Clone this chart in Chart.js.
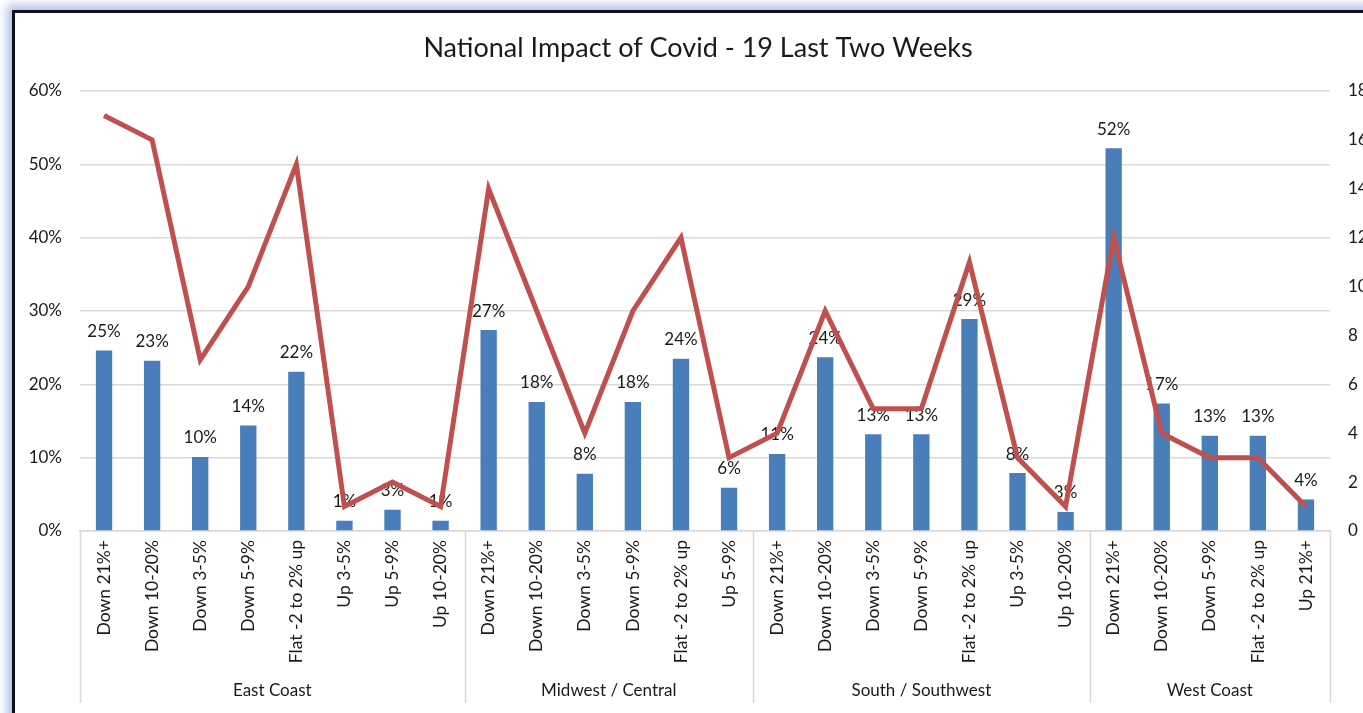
<!DOCTYPE html>
<html>
<head>
<meta charset="utf-8">
<title>National Impact of Covid - 19 Last Two Weeks</title>
<script src="https://cdn.jsdelivr.net/npm/chart.js@4.4.1/dist/chart.umd.min.js"></script>
<style>
  html, body { margin: 0; padding: 0; width: 1363px; height: 713px; overflow: hidden; background: #fff; }
  .frame {
    position: absolute; left: 12px; top: 10px; width: 1420px; height: 780px;
    border: 3px solid #101018; background: #fff;
    box-shadow: 0 0 9px 5px rgba(176, 188, 232, 0.95);
  }
  #wrap { position: absolute; left: 15px; top: 13px; width: 1366px; height: 700px; }
</style>
</head>
<body>
<div class="frame"></div>
<div id="wrap"><canvas id="chart" width="1366" height="700"></canvas></div>
<script>
// Trend buckets, grouped by region
const regions = ['East Coast', 'Midwest / Central', 'South / Southwest', 'West Coast'];
const regionSizes = [8, 6, 7, 5];
const trendLabels = [
  'Down 21%+', 'Down 10-20%', 'Down 3-5%', 'Down 5-9%', 'Flat -2 to 2% up', 'Up 3-5%', 'Up 5-9%', 'Up 10-20%',
  'Down 21%+', 'Down 10-20%', 'Down 3-5%', 'Down 5-9%', 'Flat -2 to 2% up', 'Up 5-9%',
  'Down 21%+', 'Down 10-20%', 'Down 3-5%', 'Down 5-9%', 'Flat -2 to 2% up', 'Up 3-5%', 'Up 10-20%',
  'Down 21%+', 'Down 10-20%', 'Down 5-9%', 'Flat -2 to 2% up', 'Up 21%+'
];
// Share of the region's count in each bucket (%)
const sharePct = [
  24.6, 23.2, 10.1, 14.4, 21.7, 1.4, 2.9, 1.4,
  27.4, 17.6, 7.8, 17.6, 23.5, 5.9,
  10.5, 23.7, 13.2, 13.2, 28.9, 7.9, 2.6,
  52.2, 17.4, 13.0, 13.0, 4.3
];
// Count in each bucket (right axis)
const counts = [
  17, 16, 7, 10, 15, 1, 2, 1,
  14, 9, 4, 9, 12, 3,
  4, 9, 5, 5, 11, 3, 1,
  12, 4, 3, 3, 1
];
const leftTicks = [0, 10, 20, 30, 40, 50, 60];
const rightTicks = [0, 2, 4, 6, 8, 10, 12, 14, 16, 18];

const FONT = 'Lato, "Noto Sans", sans-serif';
const TEXT = '#1a1a1a';
const GRID = '#d9d9d9';

// Percentage labels above each bar (drawn before the line so the line sits on top)
const barLabels = {
  id: 'barLabels',
  afterDatasetDraw(chart, args) {
    if (args.index !== 0) return;
    const ctx = chart.ctx;
    ctx.save();
    ctx.font = '17px ' + FONT;
    ctx.fillStyle = TEXT;
    ctx.textAlign = 'center';
    ctx.textBaseline = 'middle';
    args.meta.data.forEach((bar, i) => {
      ctx.fillText(Math.round(sharePct[i]) + '%', bar.x, bar.y - 19);
    });
    ctx.restore();
  }
};

// Second category level: region names with separators
const regionAxis = {
  id: 'regionAxis',
  afterDraw(chart) {
    const xs = chart.scales.x;
    const ctx = chart.ctx;
    const step = xs.getPixelForValue(1) - xs.getPixelForValue(0);
    const bottom = chart.height - 10;
    ctx.save();
    ctx.strokeStyle = GRID;
    ctx.lineWidth = 1.5;
    ctx.font = '17px ' + FONT;
    ctx.fillStyle = TEXT;
    ctx.textAlign = 'center';
    ctx.textBaseline = 'middle';
    let start = 0;
    const edges = [xs.getPixelForValue(0) - step / 2];
    regionSizes.forEach((n, r) => {
      const x0 = xs.getPixelForValue(start) - step / 2;
      const x1 = xs.getPixelForValue(start + n - 1) + step / 2;
      edges.push(x1);
      ctx.fillText(regions[r], (x0 + x1) / 2, 678);
      start += n;
    });
    edges.forEach(x => {
      ctx.beginPath();
      ctx.moveTo(Math.round(x) + 0.5, xs.top);
      ctx.lineTo(Math.round(x) + 0.5, bottom);
      ctx.stroke();
    });
    ctx.restore();
  }
};

new Chart(document.getElementById('chart'), {
  data: {
    labels: trendLabels,
    datasets: [
      {
        type: 'bar',
        data: sharePct,
        yAxisID: 'y',
        backgroundColor: '#4a7ebb',
        barPercentage: 0.34,
        categoryPercentage: 1,
        order: 1
      },
      {
        type: 'line',
        data: counts,
        yAxisID: 'y1',
        borderColor: '#c0504d',
        borderWidth: 5,
        pointRadius: 0,
        tension: 0,
        order: 0
      }
    ]
  },
  options: {
    responsive: false,
    animation: false,
    events: [],
    layout: { padding: 0 },
    plugins: {
      legend: { display: false },
      tooltip: { enabled: false },
      title: {
        display: true,
        text: 'National Impact of Covid - 19 Last Two Weeks',
        color: TEXT,
        font: { family: FONT, size: 27, weight: 'normal', lineHeight: 1.2 },
        padding: { top: 19, bottom: 26.6 }
      }
    },
    scales: {
      x: {
        type: 'category',
        offset: true,
        grid: { display: false, drawTicks: false },
        border: { display: true, color: GRID, width: 1.5 },
        ticks: {
          autoSkip: false, minRotation: 90, maxRotation: 90,
          padding: 9, color: TEXT, font: { family: FONT, size: 17.5 }
        },
        afterFit(s) { s.height = 182; }
      },
      y: {
        position: 'left',
        min: 0, max: 60,
        afterBuildTicks(s) { s.ticks = leftTicks.map(v => ({ value: v })); },
        grid: { color: GRID, lineWidth: 1.5, drawTicks: false },
        border: { display: false },
        ticks: {
          padding: 18, color: TEXT, font: { family: FONT, size: 17 },
          callback: v => v + '%'
        },
        afterFit(s) { s.width = 65; }
      },
      y1: {
        position: 'right',
        min: 0, max: 18,
        afterBuildTicks(s) { s.ticks = rightTicks.map(v => ({ value: v })); },
        grid: { display: false, drawTicks: false },
        border: { display: false },
        ticks: { padding: 18, color: TEXT, font: { family: FONT, size: 17 } },
        afterFit(s) { s.width = 51; }
      }
    }
  },
  plugins: [barLabels, regionAxis]
});
</script>
</body>
</html>
